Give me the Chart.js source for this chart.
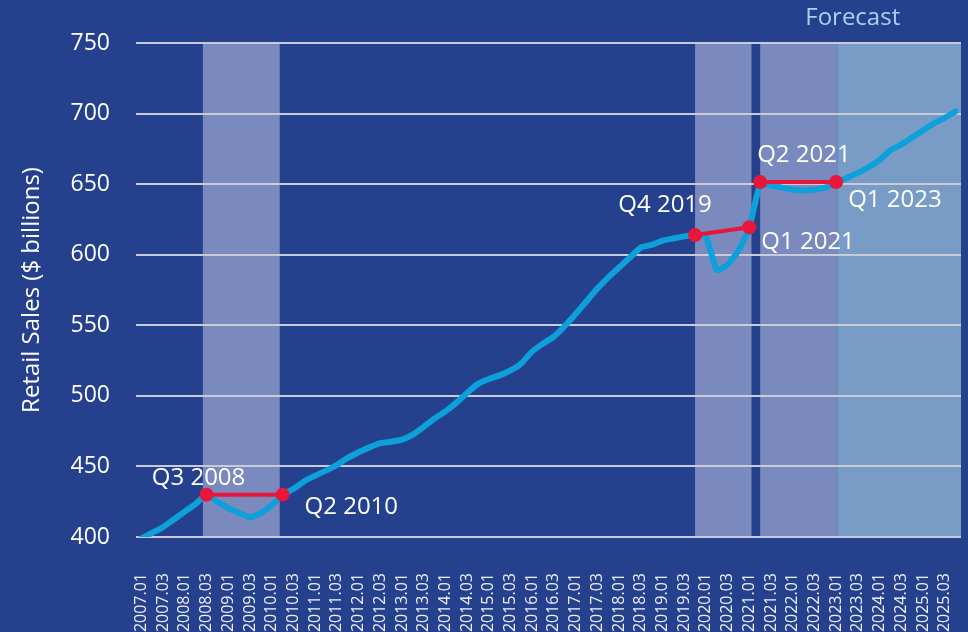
<!DOCTYPE html>
<html>
<head>
<meta charset="utf-8">
<script src="https://cdn.jsdelivr.net/npm/chart.js@4"></script>
<style>
  html, body { margin: 0; padding: 0; background: #25408c; overflow: hidden; }
  #wrap { width: 968px; height: 632px; position: relative; }
</style>
</head>
<body>
<div id="wrap"><canvas id="salesChart"></canvas></div>
<script>
// quarterly labels, 2007 Q1 .. 2025 Q4
const quarters = [
  "2007.01","2007.02","2007.03","2007.04","2008.01","2008.02","2008.03","2008.04",
  "2009.01","2009.02","2009.03","2009.04","2010.01","2010.02","2010.03","2010.04",
  "2011.01","2011.02","2011.03","2011.04","2012.01","2012.02","2012.03","2012.04",
  "2013.01","2013.02","2013.03","2013.04","2014.01","2014.02","2014.03","2014.04",
  "2015.01","2015.02","2015.03","2015.04","2016.01","2016.02","2016.03","2016.04",
  "2017.01","2017.02","2017.03","2017.04","2018.01","2018.02","2018.03","2018.04",
  "2019.01","2019.02","2019.03","2019.04","2020.01","2020.02","2020.03","2020.04",
  "2021.01","2021.02","2021.03","2021.04","2022.01","2022.02","2022.03","2022.04",
  "2023.01","2023.02","2023.03","2023.04","2024.01","2024.02","2024.03","2024.04",
  "2025.01","2025.02","2025.03","2025.04"
];

// retail sales, $ billions
const sales = [
  399, 403, 407, 412.5, 418, 423.5, 430, 425, 420.5, 417,
  414, 417, 422.5, 430, 434, 439.5, 443.5, 447, 451, 456,
  460, 463.5, 466.5, 467.5, 469, 472.5, 478, 484, 489, 495,
  502, 508.5, 512, 514.5, 518, 523, 531.5, 537, 542, 549.5,
  558, 567, 576, 584, 591, 598, 605, 607, 610, 611.5,
  613, 614, 613, 589, 593, 603, 619, 650, 649, 647.5,
  646, 645.5, 646, 647.5, 651, 654.5, 658, 662, 667, 674,
  678, 683, 688, 693, 697, 701.5
];

// recovery markers: [quarter index, value, label]
const recovery1 = [[6, 430, "Q3 2008"], [13, 430, "Q2 2010"]];
const recovery2 = [[51, 614, "Q4 2019"], [56, 619.5, "Q1 2021"]];
const recovery3 = [[57, 651.5, "Q2 2021"], [64, 651.5, "Q1 2023"]];

// shaded periods, in quarter index units
const periodStart = [5.66, 51.0, 57.0, 64.1];
const periodEnd = [12.74, 56.2, 64.1, 75.5];
const periodKind = ["recession", "recession", "recession", "forecast"];

const yTicks = [400, 450, 500, 550, 600, 650, 700, 750];

const FONT = "'Open Sans', 'Noto Sans', sans-serif";
const shadeColors = { recession: "#7a89be", forecast: "#799cc7" };

// label placement next to each marker (pixel offsets)
const labelOffsets = {
  "Q3 2008": [-8, -17, "center"],
  "Q2 2010": [22, 12, "left"],
  "Q4 2019": [-30, -30, "center"],
  "Q1 2021": [12, 15, "left"],
  "Q2 2021": [-3, -27, "left"],
  "Q1 2023": [12, 18, "left"]
};

function markerData(pairs) {
  const arr = quarters.map(() => null);
  pairs.forEach(p => { arr[p[0]] = p[1]; });
  return arr;
}

function markerSet(pairs) {
  return {
    data: markerData(pairs),
    labelsAt: pairs,
    borderColor: "#e8173a",
    backgroundColor: "#e8173a",
    borderWidth: 4,
    pointRadius: 7,
    pointHoverRadius: 7,
    pointBorderWidth: 0,
    spanGaps: true,
    tension: 0,
    order: 1
  };
}

const shadePlugin = {
  id: "shade",
  beforeDraw(chart) {
    const { ctx, chartArea, scales } = chart;
    ctx.save();
    periodStart.forEach((s, i) => {
      const x0 = scales.x.getPixelForValue(s);
      const x1 = Math.min(scales.x.getPixelForValue(periodEnd[i]), chartArea.right);
      ctx.fillStyle = shadeColors[periodKind[i]];
      ctx.fillRect(x0, chartArea.top, x1 - x0, chartArea.bottom - chartArea.top);
    });
    // forecast caption
    const fx = scales.x.getPixelForValue(periodStart[3]);
    ctx.fillStyle = "#a6d3f0";
    ctx.font = "24px " + FONT;
    ctx.textAlign = "left";
    ctx.textBaseline = "middle";
    ctx.fillText("Forecast", fx - 32, 18);
    ctx.restore();
  }
};

const labelPlugin = {
  id: "markerLabels",
  afterDatasetsDraw(chart) {
    const { ctx } = chart;
    ctx.save();
    ctx.fillStyle = "#ffffff";
    ctx.font = "24px " + FONT;
    ctx.textBaseline = "middle";
    chart.data.datasets.forEach((ds, di) => {
      if (!ds.labelsAt) return;
      const meta = chart.getDatasetMeta(di);
      ds.labelsAt.forEach(p => {
        const pt = meta.data[p[0]];
        const off = labelOffsets[p[2]];
        ctx.textAlign = off[2];
        ctx.fillText(p[2], pt.x + off[0], pt.y + off[1]);
      });
    });
    ctx.restore();
  }
};

new Chart(document.getElementById("salesChart"), {
  type: "line",
  data: {
    labels: quarters,
    datasets: [
      markerSet(recovery1),
      markerSet(recovery2),
      markerSet(recovery3),
      {
        data: sales,
        borderColor: "#0ea0da",
        borderWidth: 6,
        pointRadius: 0,
        tension: 0.15,
        borderCapStyle: "round",
        borderJoinStyle: "round",
        order: 2
      }
    ]
  },
  options: {
    responsive: true,
    maintainAspectRatio: false,
    animation: false,
    layout: { padding: { top: 43, right: 5, left: 0, bottom: 0 } },
    plugins: { legend: { display: false }, tooltip: { enabled: false } },
    scales: {
      x: {
        offset: true,
        grid: { display: false, drawTicks: false, offset: true },
        border: { display: false },
        ticks: {
          autoSkip: false,
          maxRotation: 90,
          minRotation: 90,
          padding: 36,
          color: "#eef0f7",
          font: { family: FONT, size: 16 },
          callback: function (v, i) { return i % 2 === 0 ? this.getLabelForValue(v) : null; }
        },
        afterFit: s => { s.height = 95; s.paddingLeft = 0; s.paddingRight = 0; }
      },
      y: {
        min: 400,
        max: 750,
        afterBuildTicks: s => { s.ticks = yTicks.map(v => ({ value: v })); },
        grid: { color: "#c8cbd8", lineWidth: 2, drawTicks: false },
        border: { display: false },
        ticks: {
          padding: 26,
          color: "#ffffff",
          font: { family: FONT, size: 23 }
        },
        title: {
          display: true,
          text: "Retail Sales ($ billions)",
          color: "#ffffff",
          font: { family: FONT, size: 24 },
          padding: { top: 18, bottom: 0 }
        },
        afterFit: s => { s.width = 136; }
      }
    }
  },
  plugins: [shadePlugin, labelPlugin]
});
</script>
</body>
</html>
